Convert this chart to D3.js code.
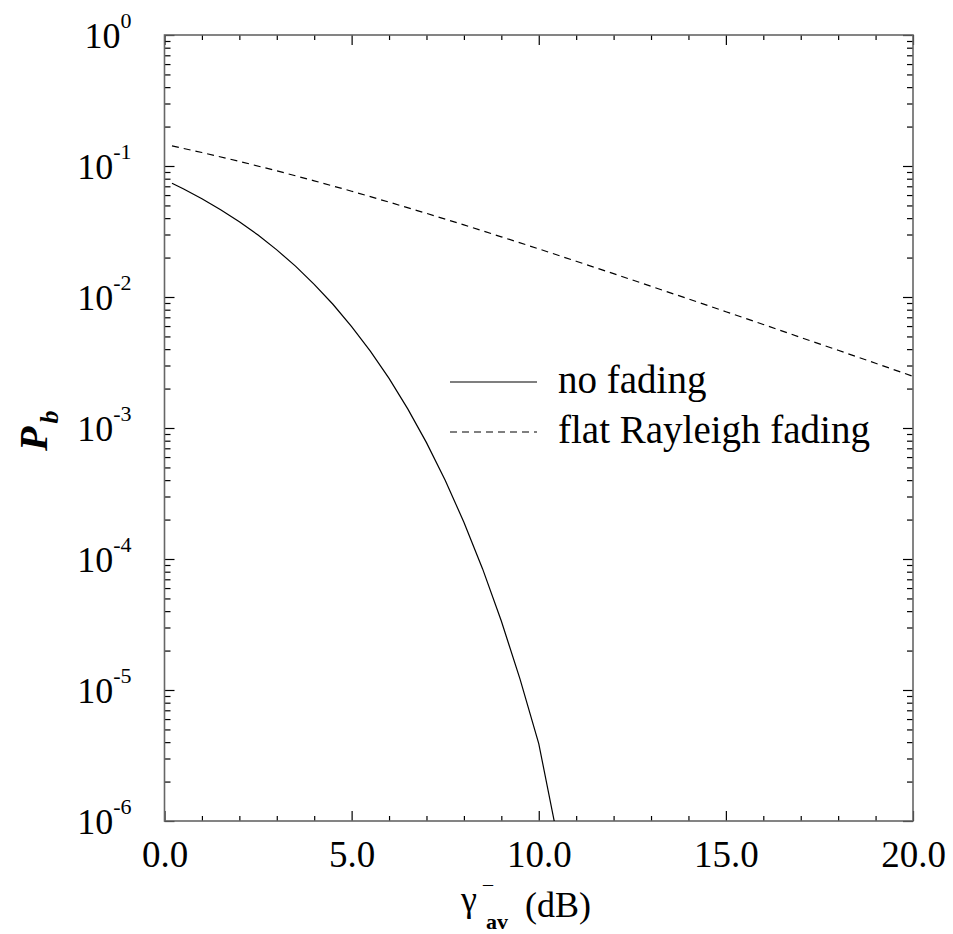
<!DOCTYPE html>
<html>
<head>
<meta charset="utf-8">
<script src="https://cdn.jsdelivr.net/npm/d3@7"></script>
<style>
  body { margin: 0; background: #fff; }
  svg { display: block; font-family: "Liberation Serif", "Times New Roman", serif; }
</style>
</head>
<body>
<svg id="chart" width="953" height="934"></svg>
<script>
// values
const snrNoFading = [0.2, 0.5, 1, 1.5, 2, 2.5, 3, 3.5, 4, 4.5, 5, 5.5, 6, 6.5, 7, 7.5, 8, 8.5, 9, 9.5, 10, 10.5];
const pbNoFading = [0.0739, 0.0671, 0.0563, 0.0464, 0.0375, 0.0297, 0.0229, 0.0172, 0.0125, 0.0088,
  0.00595, 0.00386, 0.00239, 0.0014, 0.000773, 0.000399, 0.000191, 8.4e-5, 3.36e-5, 1.21e-5, 3.9e-6, 7.5e-7];

const snrRayleigh = [0.2, 1, 2, 3, 4, 5, 6, 7, 8, 9, 10, 11, 12, 13, 14, 15, 16, 17, 18, 19, 20];
const pbRayleigh = [0.1424, 0.1267, 0.1085, 0.0919, 0.0771, 0.0642, 0.0530, 0.0435, 0.0355, 0.0288,
  0.0233, 0.01875, 0.01507, 0.01208, 0.00966, 0.00772, 0.00617, 0.00491, 0.00392, 0.00312, 0.00248];

const xMajor = [0, 5, 10, 15, 20];
const xMinor = d3.range(0, 21, 1).filter(d => d % 5 !== 0);
const yDecades = [-6, -5, -4, -3, -2, -1, 0];

const legendItems = [
  { label: "no fading", dash: null },
  { label: "flat Rayleigh fading", dash: "7,5" }
];

const svg = d3.select("#chart");
const plotLeft = 164.5, plotRight = 913, plotTop = 35, plotBottom = 821;

const x = d3.scaleLinear().domain([0, 20]).range([plotLeft, plotRight]);
const y = d3.scaleLog().domain([1e-6, 1]).range([plotBottom, plotTop]);

const yMinor = [];
yDecades.slice(0, -1).forEach(e => {
  for (let m = 2; m <= 9; m++) yMinor.push(m * Math.pow(10, e));
});

svg.append("defs").append("clipPath").attr("id", "plot")
  .append("rect")
  .attr("x", plotLeft).attr("y", plotTop)
  .attr("width", plotRight - plotLeft).attr("height", plotBottom - plotTop);

// tick marks, all pointing inward
function ticks(axis, tx, ty) {
  const g = svg.append("g")
    .attr("transform", `translate(${tx},${ty})`)
    .call(axis)
    .attr("font-family", null)
    .attr("font-size", null);
  g.select(".domain").remove();
  g.selectAll("line").attr("stroke", "#000").attr("stroke-width", 1.2);
  return g;
}

const xBottom = ticks(d3.axisBottom(x).tickValues(xMajor).tickSize(-10).tickPadding(20)
  .tickFormat(d3.format(".1f")), 0, plotBottom);
xBottom.selectAll("text")
  .attr("fill", "#000")
  .style("font-size", "37px");
ticks(d3.axisBottom(x).tickValues(xMinor).tickSize(-5).tickFormat(""), 0, plotBottom);
ticks(d3.axisTop(x).tickValues(xMajor).tickSize(-10).tickFormat(""), 0, plotTop);
ticks(d3.axisTop(x).tickValues(xMinor).tickSize(-5).tickFormat(""), 0, plotTop);

const decadeVals = yDecades.map(e => Math.pow(10, e));
const yLeft = ticks(d3.axisLeft(y).tickValues(decadeVals).tickSize(-10).tickFormat(""), plotLeft, 0);
ticks(d3.axisLeft(y).tickValues(yMinor).tickSize(-6).tickFormat(""), plotLeft, 0);
ticks(d3.axisRight(y).tickValues(decadeVals).tickSize(-10).tickFormat(""), plotRight, 0);
ticks(d3.axisRight(y).tickValues(yMinor).tickSize(-6).tickFormat(""), plotRight, 0);

// decade labels 10^n
yLeft.selectAll(".tick").each(function(d) {
  const t = d3.select(this).append("text")
    .attr("x", -33)
    .attr("y", 12)
    .attr("text-anchor", "end")
    .attr("fill", "#000")
    .style("font-size", "36px");
  t.append("tspan").text("10");
  t.append("tspan")
    .attr("dy", -20)
    .style("font-size", "22px")
    .text(Math.round(Math.log10(d)));
});

// frame
svg.append("rect")
  .attr("x", plotLeft).attr("y", plotTop)
  .attr("width", plotRight - plotLeft).attr("height", plotBottom - plotTop)
  .attr("fill", "none")
  .attr("stroke", "#666")
  .attr("stroke-width", 1.6);

const line = d3.line()
  .x(d => x(d[0]))
  .y(d => y(d[1]));

const plot = svg.append("g").attr("clip-path", "url(#plot)");

plot.append("path")
  .datum(d3.zip(snrNoFading, pbNoFading))
  .attr("fill", "none")
  .attr("stroke", "#000")
  .attr("stroke-width", 1.2)
  .attr("d", line);

plot.append("path")
  .datum(d3.zip(snrRayleigh, pbRayleigh))
  .attr("fill", "none")
  .attr("stroke", "#000")
  .attr("stroke-width", 1.2)
  .attr("stroke-dasharray", "7,5")
  .attr("d", line);

// legend
const legend = svg.append("g").attr("transform", "translate(450,382)");
legendItems.forEach((item, i) => {
  const row = legend.append("g").attr("transform", `translate(0,${i * 50})`);
  row.append("line")
    .attr("x1", 0).attr("x2", 87)
    .attr("stroke", "#000")
    .attr("stroke-width", 1.2)
    .attr("stroke-dasharray", item.dash);
  row.append("text")
    .attr("x", 108).attr("y", 11)
    .attr("fill", "#000")
    .style("font-size", "39px")
    .text(item.label);
});

// y label P_b
const yl = svg.append("text")
  .attr("transform", "translate(47,451) rotate(-90)")
  .attr("fill", "#000")
  .style("font-weight", "bold")
  .style("font-style", "italic")
  .style("font-size", "40px");
yl.append("tspan").text("P");
yl.append("tspan").attr("dx", 3).attr("dy", 11).style("font-size", "26px").text("b");

// x label gamma-bar av (dB)
const xl = svg.append("text").attr("fill", "#000").style("font-size", "36px");
xl.append("tspan").attr("x", 461).attr("y", 911).text("γ");
xl.append("tspan").attr("x", 483).attr("y", 901).style("font-size", "20px").text("¯");
xl.append("tspan").attr("x", 486).attr("y", 929)
  .style("font-size", "22px").style("font-weight", "bold").text("av");
xl.append("tspan").attr("x", 525).attr("y", 917).text("(dB)");
</script>
</body>
</html>
